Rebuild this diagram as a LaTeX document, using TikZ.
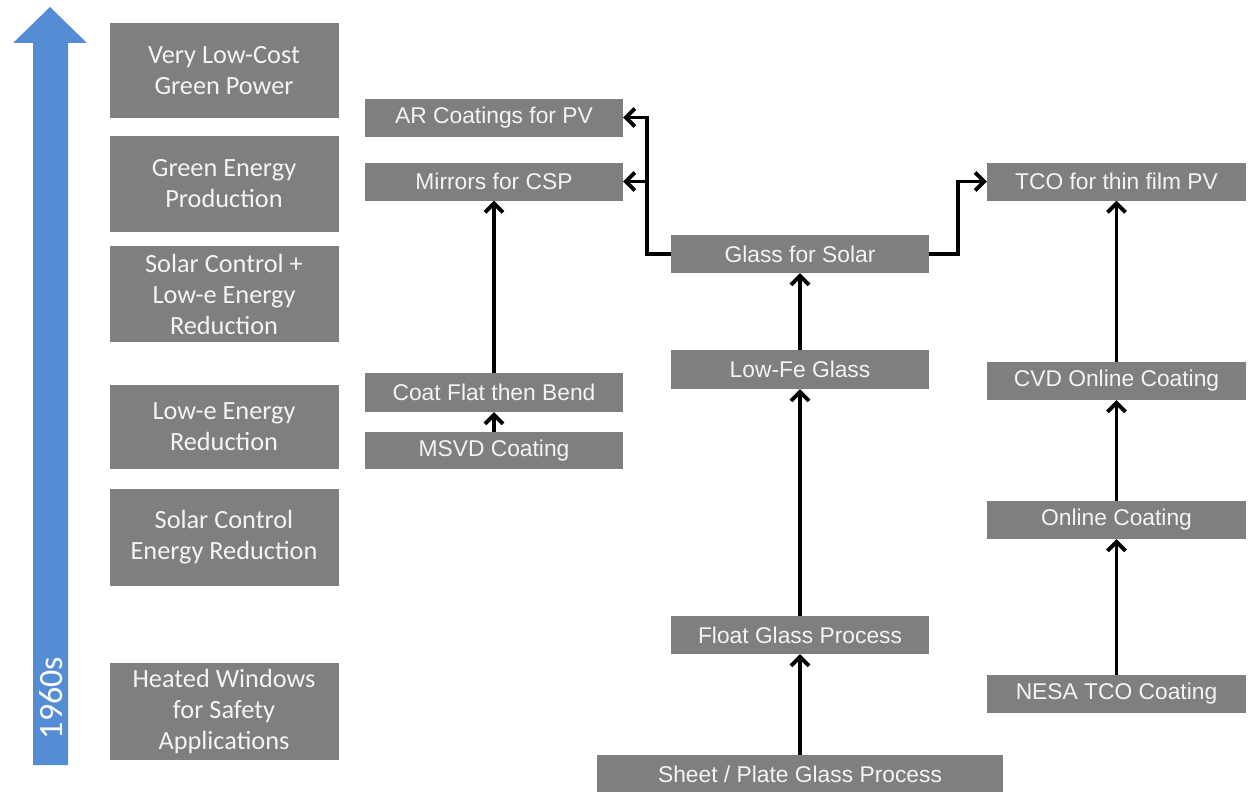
\documentclass[tikz,border=0pt]{standalone}
\usepackage{fontspec}
\setmainfont{Carlito}
\newfontfamily\arialf{Liberation Sans}
\usetikzlibrary{arrows.meta}
\definecolor{boxgray}{HTML}{7F7F7F}
\definecolor{boxtext}{HTML}{F4F4F4}
\definecolor{timeblue}{HTML}{548DD4}
\tikzset{
  box/.style={rectangle, fill=boxgray, text=boxtext, inner sep=0pt, align=center},
  era/.style={box, minimum width=229pt, font=\fontsize{26.3}{31}\selectfont},
  proc/.style={box, minimum width=258pt, minimum height=38pt, font=\arialf\fontsize{22.8}{27}\selectfont},
  arr/.style={line width=3.8pt, -{Straight Barb[length=9pt,width=18pt]}},
}
\begin{document}
\begin{tikzpicture}[x=1pt,y=-1pt]
\useasboundingbox (0,0) rectangle (1255,792);
% time arrow
\fill[timeblue] (33,765) -- (33,43) -- (13,43) -- (50,7) -- (87,43) -- (68,43) -- (68,765) -- cycle;
\node[rotate=90, text=white, font=\fontsize{34}{36}\selectfont, inner sep=0pt] (yr) at (51,698) {1960s};
% era boxes
\node[era, minimum height=95pt] (e1) at (224,70.5) {Very Low-Cost\\Green Power};
\node[era, minimum height=96pt] (e2) at (224,184) {Green Energy\\Production};
\node[era, minimum height=96pt] (e3) at (224,294) {Solar Control +\\Low-e Energy\\Reduction};
\node[era, minimum height=84pt] (e4) at (224,427) {Low-e Energy\\Reduction};
\node[era, minimum height=97pt] (e5) at (224,537.5) {Solar Control\\Energy Reduction};
\node[era, minimum height=97pt] (e6) at (224,711.5) {Heated Windows\\for Safety\\Applications};
% left process column
\node[proc] (ar) at (494,117.5) {AR Coatings for PV};
\node[proc] (mir) at (494,181.5) {Mirrors for CSP};
\node[proc, minimum height=39pt] (coat) at (494,392.5) {Coat Flat then Bend};
\node[proc, minimum height=37pt] (msvd) at (494,450.5) {MSVD Coating};
% centre column
\node[proc] (gs) at (800,254) {Glass for Solar};
\node[proc, minimum height=39pt] (lowfe) at (800,369.5) {Low-Fe Glass};
\node[proc] (float) at (800,635) {Float Glass Process};
\node[proc, minimum width=406pt] (sheet) at (800,774) {Sheet / Plate Glass Process};
% right column
\node[proc, minimum width=259pt] (tco) at (1116.5,181.5) {TCO for thin film PV};
\node[proc, minimum width=259pt] (cvd) at (1116.5,381) {CVD Online Coating};
\node[proc, minimum width=259pt] (online) at (1116.5,520) {Online Coating};
\node[proc, minimum width=259pt] (nesa) at (1116.5,694) {NESA TCO Coating};
% connectors
\draw[arr] (gs.west) -- ++(-24,0) |- (ar.east);
\draw[arr] (gs.west) -- ++(-24,0) |- (mir.east);
\draw[arr] (gs.east) -- ++(29,0) |- (tco.west);
\draw[arr] (lowfe.north) -- (gs.south);
\draw[arr] (float.north) -- (lowfe.south);
\draw[arr] (sheet.north) -- (float.south);
\draw[arr] (coat.north) -- (mir.south);
\draw[arr] (msvd.north) -- (coat.south);
\draw[arr] (cvd.north) -- (tco.south);
\draw[arr] (online.north) -- (cvd.south);
\draw[arr] (nesa.north) -- (online.south);
\end{tikzpicture}
\end{document}
